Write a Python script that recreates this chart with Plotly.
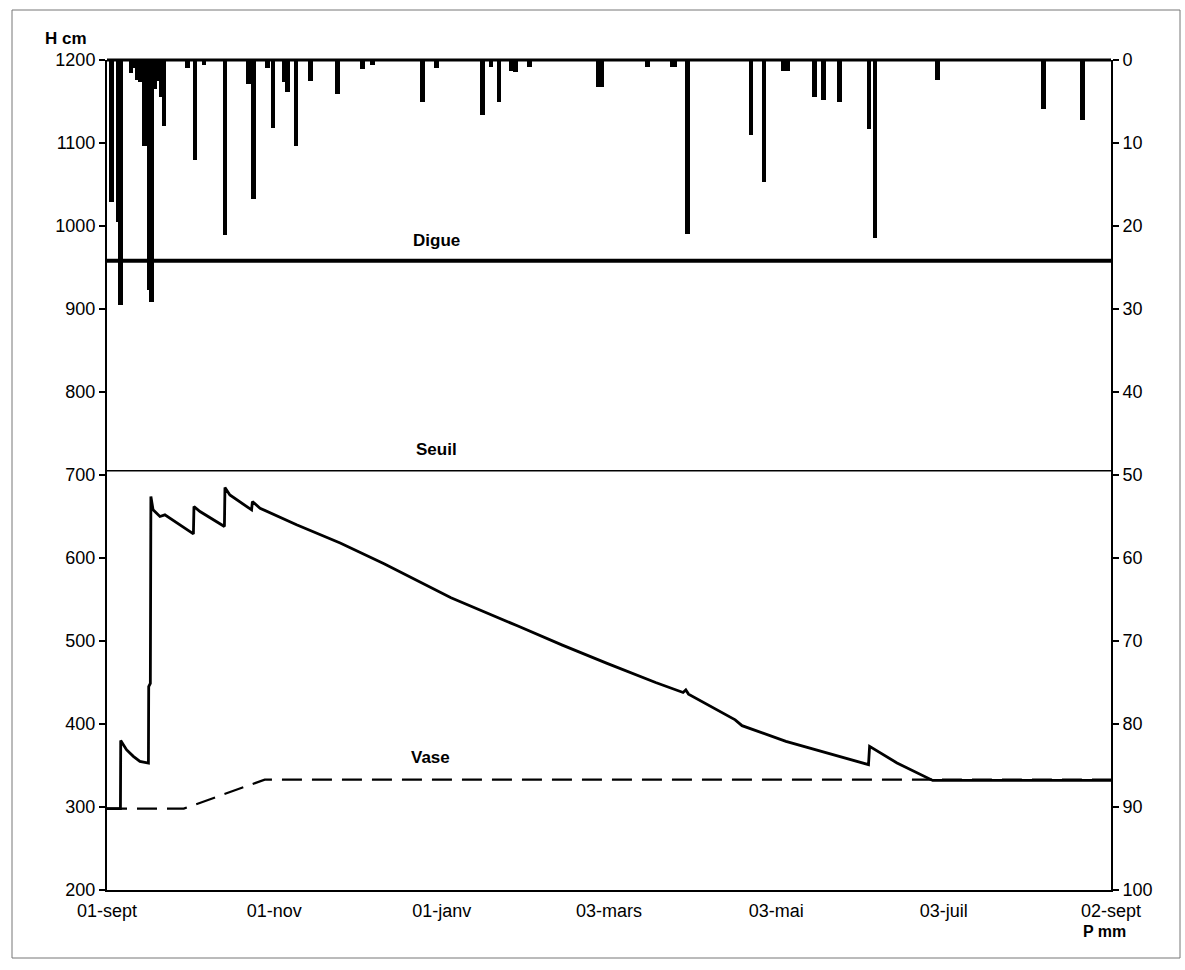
import pandas as pd
import plotly.graph_objects as go

# Hydrological year, day 0 = 01-sept
start_date = pd.Timestamp("2002-09-01")
end_day = 366

# Water level in the pond (H, cm)
level_day = [0, 4.9, 5.0, 7.1, 9.6, 12.0, 15.1, 15.2, 15.8, 16.0, 16.8, 19.3, 21.1,
             31.5, 31.7, 33.9, 42.8, 43.0, 44.8, 52.7, 53.0, 55.8, 69.1, 85, 101,
             125.4, 149.8, 166, 182.3, 200, 210, 211, 212, 229, 231.5, 247.5,
             277.6, 278.0, 288, 301, 366]
level_cm = [298, 298, 380, 369, 361, 355, 353, 445, 449, 674, 658, 650, 652,
            629, 662, 656, 638, 685, 676, 658, 668, 660, 640, 618, 593,
            552, 518, 495, 473, 450, 438, 441, 436, 405, 398, 379,
            351, 373, 353, 332, 332]

# Sediment (vase) level, cm
vase_day = [0, 28, 57.5, 366]
vase_cm = [298, 298, 333, 333]

# Daily rainfall P (mm)
rain_day = [1.6, 4.1, 5.0, 8.7, 9.3, 11.0, 12.0, 13.6, 15.3, 16.2, 17.4, 18.5, 19.7,
            20.8, 29.3, 32.1, 35.4, 43.0, 51.6, 53.5, 58.6, 60.5, 64.6, 65.8, 68.9,
            74.2, 84.1, 93.2, 96.9, 115.0, 120.0, 136.8, 140.0, 142.9, 147.5, 149.0,
            154.0, 179.0, 180.2, 197.0, 206.0, 207.0, 211.5, 234.8, 239.5, 246.5,
            248.0, 257.9, 261.2, 267.1, 277.8, 280.0, 302.7, 341.5, 355.5]
rain_mm = [17.1, 19.5, 29.5, 1.6, 1.0, 2.4, 2.6, 10.4, 27.7, 29.1, 3.5, 2.5, 4.4,
           8.0, 1.0, 12.0, 0.6, 21.1, 2.9, 16.8, 1.0, 8.2, 2.6, 3.9, 10.4,
           2.5, 4.1, 1.1, 0.6, 5.1, 1.0, 6.6, 0.8, 5.0, 1.3, 1.4,
           0.8, 3.2, 3.2, 0.9, 0.9, 0.9, 21.0, 9.0, 14.7, 1.3,
           1.3, 4.4, 4.8, 5.0, 8.3, 21.4, 2.4, 5.9, 7.2]

# Reference levels, cm
digue_cm = 958
seuil_cm = 705

tick_days = [0, 61, 122, 183, 244, 305, 366]
tick_labels = ["01-sept", "01-nov", "01-janv", "03-mars", "03-mai", "03-juil", "02-sept"]


def to_dates(days):
    return [start_date + pd.Timedelta(days=float(d)) for d in days]


W, H = 1185, 970
ML, MR, MT, MB = 107, 74, 60, 80
PW, PH = W - ML - MR, H - MT - MB

FONT = "Liberation Sans, Arial, sans-serif"


def px_x(px):
    return (px - ML) / PW


def px_y(py):
    return (H - MB - py) / PH


fig = go.Figure()

fig.add_trace(go.Bar(
    x=to_dates(rain_day), y=rain_mm, yaxis="y2",
    width=1.7 * 86400000, marker=dict(color="black", line=dict(width=0)),
    showlegend=False,
))

fig.add_trace(go.Scatter(
    x=to_dates(vase_day), y=vase_cm, mode="lines",
    line=dict(color="black", width=2.2, dash="20px,10px"), showlegend=False,
))

fig.add_trace(go.Scatter(
    x=to_dates(level_day), y=level_cm, mode="lines",
    line=dict(color="black", width=2.8), showlegend=False,
))

shapes = [
    dict(type="line", xref="paper", yref="y", x0=0, x1=1, y0=digue_cm, y1=digue_cm,
         line=dict(color="black", width=4)),
    dict(type="line", xref="paper", yref="y", x0=0, x1=1, y0=seuil_cm, y1=seuil_cm,
         line=dict(color="black", width=1.5)),
    dict(type="line", xref="paper", yref="paper", x0=0, x1=1, y0=1, y1=1,
         line=dict(color="black", width=3)),
    # outer chart-area frame
    dict(type="rect", xref="paper", yref="paper",
         x0=px_x(12), x1=px_x(1180), y0=px_y(958), y1=px_y(10),
         line=dict(color="#777", width=1)),
]

label_font = dict(family=FONT, size=17, color="black")
annotations = [
    dict(text="<b>Digue</b>", x=to_dates([120])[0], y=digue_cm, yshift=20,
         xref="x", yref="y", showarrow=False, font=label_font,
         xanchor="center", yanchor="middle"),
    dict(text="<b>Seuil</b>", x=to_dates([120])[0], y=seuil_cm, yshift=21,
         xref="x", yref="y", showarrow=False, font=label_font,
         xanchor="center", yanchor="middle"),
    dict(text="<b>Vase</b>", x=to_dates([118])[0], y=vase_cm[-1], yshift=22,
         xref="x", yref="y", showarrow=False, font=label_font,
         xanchor="center", yanchor="middle"),
    dict(text="<b>H cm</b>", x=px_x(66), y=px_y(38),
         xref="paper", yref="paper", showarrow=False, font=label_font,
         xanchor="center", yanchor="middle"),
    dict(text="<b>P mm</b>", x=px_x(1104), y=px_y(931),
         xref="paper", yref="paper", showarrow=False,
         font=dict(family=FONT, size=16, color="black"),
         xanchor="center", yanchor="middle"),
]

tick_font = dict(family=FONT, size=18, color="black")

fig.update_layout(
    width=W, height=H,
    margin=dict(l=ML, r=MR, t=MT, b=MB),
    paper_bgcolor="white", plot_bgcolor="white",
    bargap=0,
    shapes=shapes,
    annotations=annotations,
    xaxis=dict(
        type="date",
        range=[start_date, start_date + pd.Timedelta(days=end_day)],
        tickvals=to_dates(tick_days), ticktext=tick_labels,
        showgrid=False, zeroline=False,
        showline=True, linecolor="black", linewidth=1.5,
        ticks="", tickfont=tick_font, ticklabelstandoff=4,
    ),
    yaxis=dict(
        range=[200, 1200], tickvals=list(range(200, 1201, 100)),
        showgrid=False, zeroline=False,
        showline=True, linecolor="black", linewidth=2,
        ticks="outside", ticklen=6, tickcolor="black", tickwidth=1.5,
        tickfont=tick_font,
    ),
    yaxis2=dict(
        overlaying="y", side="right",
        range=[100, 0], tickvals=list(range(0, 101, 10)),
        showgrid=False, zeroline=False,
        showline=True, linecolor="black", linewidth=2,
        ticks="outside", ticklen=6, tickcolor="black", tickwidth=1.5,
        tickfont=tick_font,
    ),
)

fig.write_html("out.html")
